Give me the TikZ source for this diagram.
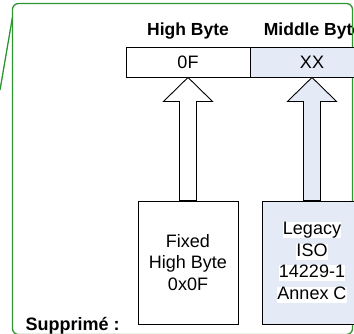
\documentclass[tikz,border=0pt]{standalone}
\usepackage{fontspec}
\setmainfont{Liberation Sans}
\usetikzlibrary{calc}
\definecolor{bytefill}{RGB}{228,235,246}
\definecolor{notegreen}{RGB}{46,150,46}
\tikzset{cell/.style={draw,line width=0.9pt,minimum width=124pt,minimum height=30pt,inner sep=0pt}}
\tikzset{srcbox/.style={draw,line width=0.9pt,minimum width=100pt,minimum height=123pt,align=center,inner sep=0pt}}
\tikzset{blockarrow/.style={draw,line width=0.9pt,line join=miter}}
\tikzset{frame/.style={draw=notegreen,line width=1.3pt}}
\newcommand{\hlwhite}[1]{{\setlength{\fboxsep}{0pt}\colorbox{white}{#1\vphantom{Lgy}}}}
\newcommand{\bytearrow}[3]{%
  \draw[blockarrow,fill=#3] ($(#1.north)+(-8.5,0)$) -- ($(#2.south)+(-8.5,24)$)
    -- ($(#2.south)+(-24.5,24)$) -- (#2.south) -- ($(#2.south)+(24.5,24)$)
    -- ($(#2.south)+(8.5,24)$) -- ($(#1.north)+(8.5,0)$) -- cycle;}
\begin{document}
\begin{tikzpicture}[x=1pt,y=-1pt,font=\fontsize{18}{21.5}\selectfont]
      \useasboundingbox (0,0) rectangle (354,333);
      \clip (0,0) rectangle (354,333);
      % comment balloon
      \draw [frame,rounded corners=6pt] (12.5,3.5) rectangle (352.5,334.5);
      \coordinate (tag) at (12.5,17);
      \coordinate (note) at (0,90);
      \draw [frame] (tag) -- (note);
      % byte headers and cells
      \node [anchor=base,font=\fontsize{17.5}{21}\selectfont\bfseries] (hbhead) at (188,35) {High Byte};
      \node [anchor=base,font=\fontsize{17.5}{21}\selectfont\bfseries] (mbhead) at (313,35) {Middle Byte};
      \node [cell] (hb) at (188,62) {0F};
      \node [cell,fill=bytefill] (mb) at (312,62) {XX};
      % sources
      \node [srcbox] (fixed) at (188,262.5) {Fixed\\High Byte\\0x0F};
      \node [srcbox,fill=bytefill] (legacy) at (312,262.5)
            {\hlwhite{Legacy}\\\hlwhite{ISO}\\\hlwhite{14229-1}\\\hlwhite{Annex C}};
      \bytearrow{fixed}{hb}{white}
      \bytearrow{legacy}{mb}{bytefill}
      \node [anchor=base west,font=\fontsize{18}{21}\selectfont\bfseries] (deleted) at (22,330) {Supprimé :};
    \end{tikzpicture}
\end{document}
